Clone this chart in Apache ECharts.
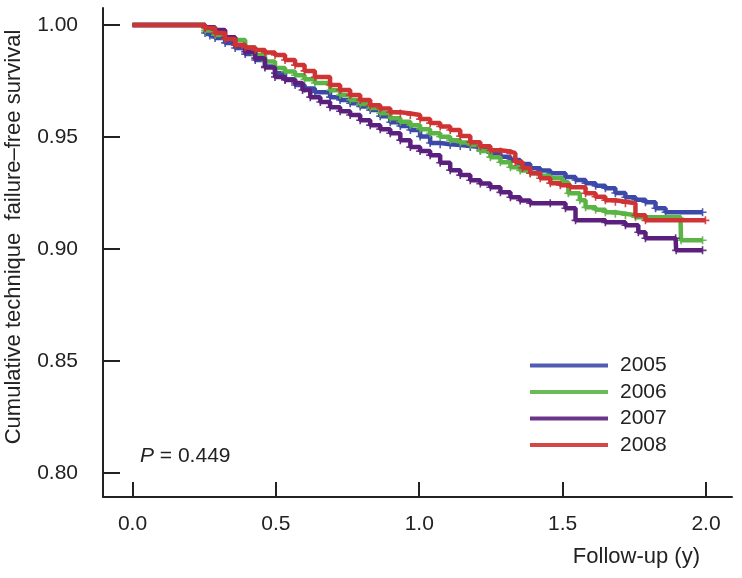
<!DOCTYPE html>
<html>
<head>
<meta charset="utf-8">
<script src="https://cdn.jsdelivr.net/npm/echarts@6/dist/echarts.min.js"></script>
<style>html,body{margin:0;padding:0;background:#fff}#c{width:742px;height:578px}</style>
</head>
<body>
<div id="c"></div>
<script>
const years = ['2005', '2006', '2007', '2008'];
const colors = ['#3d49a8', '#5ab446', '#5b1f7d', '#cf3333'];
const xTicks = [0, 0.5, 1.0, 1.5, 2.0];
const yTicks = [0.80, 0.85, 0.90, 0.95, 1.00];

const t2005 = [0, 0.238, 0.253, 0.270, 0.288, 0.323, 0.358, 0.393, 0.428, 0.462, 0.497, 0.532, 0.567, 0.600, 0.636, 0.689, 0.724, 0.759, 0.794, 0.829, 0.864, 0.899, 0.934, 0.969, 1.003, 1.038, 1.073, 1.108, 1.143, 1.178, 1.213, 1.248, 1.283, 1.318, 1.352, 1.387, 1.422, 1.457, 1.510, 1.545, 1.580, 1.615, 1.649, 1.684, 1.719, 1.754, 1.789, 1.824, 1.859, 1.988];
const s2005 = [1, 1, 0.9964, 0.9953, 0.9942, 0.9920, 0.9897, 0.9870, 0.9844, 0.9815, 0.9785, 0.9758, 0.9732, 0.9716, 0.9700, 0.9678, 0.9665, 0.9651, 0.9636, 0.9620, 0.9593, 0.9566, 0.9549, 0.9531, 0.9502, 0.9473, 0.9468, 0.9464, 0.9460, 0.9455, 0.9442, 0.9428, 0.9412, 0.9397, 0.9379, 0.9361, 0.9350, 0.9338, 0.9321, 0.9308, 0.9294, 0.9282, 0.9271, 0.9250, 0.9231, 0.9220, 0.9209, 0.9182, 0.9164, 0.9164];

const t2006 = [0, 0.238, 0.253, 0.288, 0.323, 0.358, 0.393, 0.428, 0.462, 0.497, 0.532, 0.567, 0.600, 0.636, 0.689, 0.724, 0.759, 0.794, 0.829, 0.864, 0.899, 0.934, 0.969, 1.003, 1.038, 1.073, 1.108, 1.143, 1.178, 1.213, 1.248, 1.283, 1.318, 1.352, 1.387, 1.422, 1.457, 1.500, 1.520, 1.560, 1.580, 1.615, 1.649, 1.684, 1.719, 1.754, 1.911, 1.913, 1.988];
const s2006 = [1, 1, 0.9975, 0.9955, 0.9944, 0.9933, 0.9900, 0.9866, 0.9837, 0.9808, 0.9792, 0.9776, 0.9758, 0.9741, 0.9709, 0.9687, 0.9665, 0.9647, 0.9629, 0.9606, 0.9584, 0.9568, 0.9553, 0.9535, 0.9517, 0.9501, 0.9486, 0.9475, 0.9464, 0.9437, 0.9410, 0.9387, 0.9365, 0.9351, 0.9338, 0.9327, 0.9316, 0.9298, 0.9249, 0.9218, 0.9186, 0.9175, 0.9164, 0.9157, 0.9151, 0.9142, 0.9137, 0.9039, 0.9039];

const t2007 = [0, 0.238, 0.253, 0.288, 0.323, 0.358, 0.393, 0.428, 0.462, 0.497, 0.532, 0.567, 0.593, 0.620, 0.655, 0.689, 0.724, 0.759, 0.794, 0.829, 0.864, 0.899, 0.934, 0.969, 1.003, 1.038, 1.073, 1.108, 1.143, 1.178, 1.213, 1.248, 1.283, 1.318, 1.352, 1.387, 1.457, 1.510, 1.545, 1.649, 1.719, 1.764, 1.789, 1.894, 1.896, 1.988];
const s2007 = [1, 1, 0.9990, 0.9978, 0.9945, 0.9911, 0.9881, 0.9852, 0.9810, 0.9768, 0.9755, 0.9741, 0.9710, 0.9678, 0.9656, 0.9633, 0.9615, 0.9598, 0.9575, 0.9553, 0.9535, 0.9517, 0.9486, 0.9455, 0.9437, 0.9419, 0.9385, 0.9352, 0.9330, 0.9307, 0.9292, 0.9276, 0.9253, 0.9231, 0.9217, 0.9204, 0.9204, 0.9182, 0.9128, 0.9119, 0.9106, 0.9075, 0.9048, 0.9048, 0.8994, 0.8994];

const t2008 = [0, 0.236, 0.253, 0.288, 0.323, 0.358, 0.393, 0.428, 0.462, 0.497, 0.532, 0.567, 0.600, 0.636, 0.689, 0.724, 0.759, 0.794, 0.829, 0.864, 0.899, 0.934, 0.969, 1.003, 1.038, 1.073, 1.108, 1.143, 1.178, 1.213, 1.248, 1.283, 1.318, 1.335, 1.360, 1.387, 1.422, 1.457, 1.492, 1.527, 1.580, 1.615, 1.649, 1.684, 1.719, 1.754, 1.789, 1.998];
const s2008 = [1, 1, 0.9987, 0.9964, 0.9937, 0.9911, 0.9900, 0.9888, 0.9877, 0.9866, 0.9844, 0.9821, 0.9795, 0.9768, 0.9732, 0.9710, 0.9687, 0.9665, 0.9642, 0.9627, 0.9611, 0.9605, 0.9598, 0.9580, 0.9562, 0.9547, 0.9531, 0.9504, 0.9477, 0.9459, 0.9441, 0.9435, 0.9428, 0.9388, 0.9362, 0.9338, 0.9316, 0.9294, 0.9285, 0.9276, 0.9249, 0.9233, 0.9218, 0.9211, 0.9204, 0.9151, 0.9128, 0.9128];

const times = [t2005, t2006, t2007, t2008];
const survs = [s2005, s2006, s2007, s2008];

const FONT = '"Liberation Sans", Arial, Helvetica, sans-serif';
const AX = '#222';
const plus = 'path://M4,0H6V4H10V6H6V10H4V6H0V4H4Z';

const chart = echarts.init(document.getElementById('c'), null, {renderer: 'canvas'});

const series = years.map((y, i) => ({
  name: y,
  type: 'line',
  step: 'end',
  symbol: plus,
  symbolSize: 8,
  showSymbol: true,
  showAllSymbol: true,
  lineStyle: {width: 4.5, color: colors[i]},
  itemStyle: {color: colors[i], opacity: 0.9},
  z: 2 + i,
  data: times[i].map((t, k) => k < 2 ? {value: [t, survs[i][k]], symbol: 'none'} : [t, survs[i][k]])
}));

chart.setOption({
  animation: false,
  backgroundColor: '#fff',
  textStyle: {fontFamily: FONT},
  grid: {left: 103, right: 10, top: 8, bottom: 81},
  xAxis: {
    type: 'value', min: -0.1029, max: 2.0907,
    axisLine: {show: true, onZero: false, lineStyle: {color: AX, width: 2}},
    axisTick: {show: true, inside: true, length: 15, customValues: xTicks, lineStyle: {color: AX, width: 2}},
    axisLabel: {margin: 17, fontSize: 21, color: '#222', fontFamily: FONT, customValues: xTicks,
      formatter: v => v.toFixed(1)},
    splitLine: {show: false}
  },
  yAxis: {
    type: 'value', min: 0.78929, max: 1.00759,
    axisLine: {show: true, onZero: false, lineStyle: {color: AX, width: 2}},
    axisTick: {show: true, inside: true, length: 17, customValues: yTicks, lineStyle: {color: AX, width: 2}},
    axisLabel: {margin: 25, fontSize: 21, color: '#222', fontFamily: FONT, customValues: yTicks,
      formatter: v => v.toFixed(2)},
    splitLine: {show: false}
  },
  legend: {
    data: years,
    orient: 'vertical',
    left: 530,
    top: 355,
    padding: 0,
    itemGap: 5.5,
    itemWidth: 78,
    itemHeight: 4,
    icon: 'rect',
    textStyle: {fontSize: 21, lineHeight: 21, color: '#222', fontFamily: FONT, padding: [0, 0, 0, 7]}
  },
  graphic: [
    {type: 'text', x: 14, y: 237, rotation: Math.PI / 2,
     style: {text: 'Cumulative technique  failure\u2013free survival', font: '22px ' + FONT, fill: '#222',
       textAlign: 'center', textVerticalAlign: 'middle'}},
    {type: 'text', x: 700, y: 557,
     style: {text: 'Follow-up (y)', font: '22px ' + FONT, fill: '#222', textAlign: 'right', textVerticalAlign: 'middle'}},
    {type: 'text', x: 140, y: 456,
     style: {text: '{i|P} = 0.449', fill: '#222', textVerticalAlign: 'middle',
       rich: {i: {fontStyle: 'italic', fontSize: 21, fontFamily: FONT, fill: '#222'}},
       font: '21px ' + FONT}}
  ],
  series: series
});
</script>
</body>
</html>
